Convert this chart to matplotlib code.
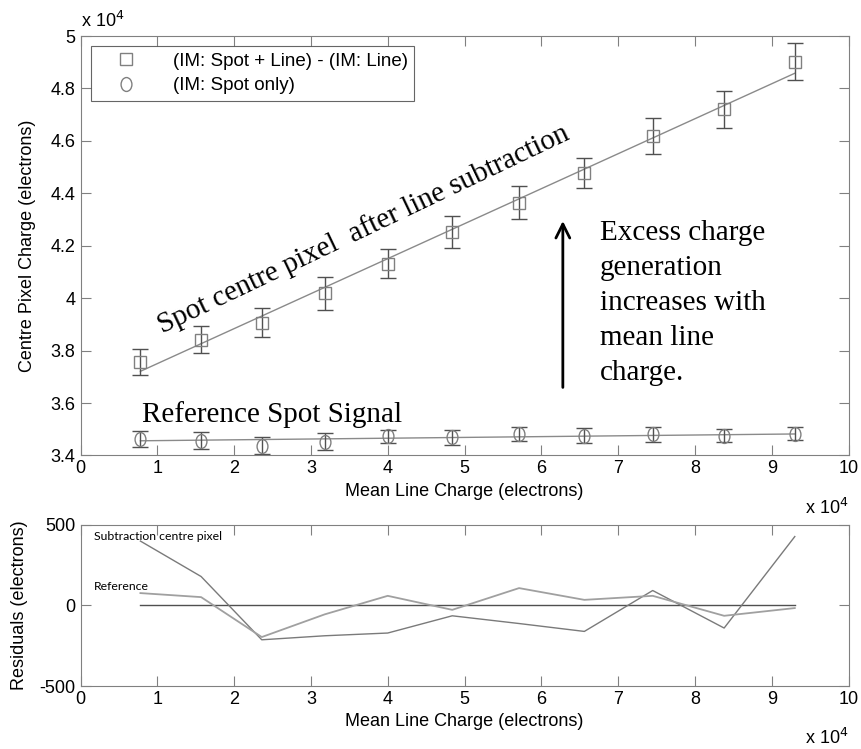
import matplotlib.pyplot as plt
import numpy as np
from matplotlib.ticker import FuncFormatter
from matplotlib.path import Path
from matplotlib.transforms import Affine2D

# all charges in units of 1e4 electrons (residuals in electrons)
line_charge = [0.78, 1.57, 2.36, 3.18, 4.0, 4.84, 5.71, 6.56, 7.45, 8.38, 9.3]

spot_sub = [3.757, 3.842, 3.907, 4.018, 4.132, 4.253, 4.364, 4.478, 4.619, 4.720, 4.902]
spot_sub_err = [0.050, 0.052, 0.057, 0.062, 0.055, 0.060, 0.063, 0.058, 0.068, 0.072, 0.071]

spot_ref = [3.462, 3.457, 3.437, 3.453, 3.473, 3.469, 3.483, 3.476, 3.481, 3.476, 3.483]
spot_ref_err = [0.030, 0.033, 0.032, 0.034, 0.025, 0.028, 0.027, 0.027, 0.029, 0.024, 0.025]

fit_x = [0.78, 9.3]
fit_sub = [3.721, 4.858]
fit_ref = [3.456, 3.482]

res_sub = [400, 180, -213, -188, -171, -64, -112, -161, 93, -140, 428]
res_ref = [77, 52, -196, -55, 60, -27, 108, 35, 60, -64, -16]

plt.rcParams['font.family'] = ['Liberation Sans', 'DejaVu Sans']
plt.rcParams['axes.unicode_minus'] = False

fig = plt.figure(figsize=(8.62, 7.49), dpi=100)
ax = fig.add_axes([0.0934, 0.3919, 0.891, 0.560])
ax2 = fig.add_axes([0.0934, 0.0841, 0.891, 0.215])

mk_col = '#808080'
err_col = '#505050'
# slightly tall ellipse, like the squashed circles of the original
ellipse = Affine2D().scale(0.78, 1.0).transform_path(Path.unit_circle())

ax.plot(fit_x, fit_sub, color='#8a8a8a', lw=1)
ax.plot(fit_x, fit_ref, color='#8a8a8a', lw=1)
ax.errorbar(line_charge, spot_sub, yerr=spot_sub_err, fmt='none', ecolor=err_col,
            elinewidth=1, capsize=6, capthick=1)
ax.errorbar(line_charge, spot_ref, yerr=spot_ref_err, fmt='none', ecolor=err_col,
            elinewidth=1, capsize=6, capthick=1)
ax.plot(line_charge, spot_sub, 's', ms=9, mfc='none', mec=mk_col, mew=1,
        label='(IM: Spot + Line) - (IM: Line)')
ax.plot(line_charge, spot_ref, marker=ellipse, ls='none', ms=10, mfc='none', mec=mk_col, mew=1,
        label='(IM: Spot only)')

ax.set_xlim(0, 10)
ax.set_ylim(3.4, 5.0)
ax.set_xticks(range(0, 11))
ax.set_yticks(np.arange(3.4, 5.01, 0.2))
ax.yaxis.set_major_formatter(FuncFormatter(lambda v, p: '%g' % round(v, 1)))
ax.set_xlabel('Mean Line Charge (electrons)', fontsize=13)
ax.set_ylabel('Centre Pixel Charge (electrons)', fontsize=13)
ax.yaxis.set_label_coords(-0.058, 0.5)
ax.text(0.0, 1.012, r'x 10$^4$', transform=ax.transAxes, fontsize=13, ha='left', va='bottom')
ax.text(1.0, -0.125, r'x 10$^4$', transform=ax.transAxes, fontsize=13, ha='right', va='center')

leg = ax.legend(loc='upper left', bbox_to_anchor=(0.0137, 0.976), borderaxespad=0,
                fontsize=13.5, frameon=True, fancybox=False, handletextpad=1.0,
                handlelength=3.0, borderpad=0.35, labelspacing=0.4)
leg.get_frame().set_edgecolor('#404040')
leg.get_frame().set_linewidth(0.8)

serif = ['Liberation Serif', 'DejaVu Serif']
ax.text(1.07, 3.866, 'Spot centre pixel  after line subtraction', family=serif, fontsize=21,
        rotation=25.5, rotation_mode='anchor', ha='left', va='baseline')
ax.text(0.80, 3.528, 'Reference Spot Signal', family=serif, fontsize=21, ha='left', va='baseline')
ax.text(6.76, 4.30, 'Excess charge\ngeneration\nincreases with\nmean line\ncharge.',
        family=serif, fontsize=21, ha='left', va='top', linespacing=1.45)
ax.annotate('', xy=(6.28, 4.305), xytext=(6.28, 3.649),
            arrowprops=dict(arrowstyle='->', color='black', lw=2, mutation_scale=25))

# residuals
ax2.plot(fit_x, [0, 0], color='#505050', lw=1)
ax2.plot(line_charge, res_sub, color='#7a7a7a', lw=1)
ax2.plot(line_charge, res_ref, color='#a0a0a0', lw=1.3)
ax2.set_xlim(0, 10)
ax2.set_ylim(-500, 500)
ax2.set_xticks(range(0, 11))
ax2.set_yticks([-500, 0, 500])
ax2.set_xlabel('Mean Line Charge (electrons)', fontsize=13)
ax2.set_ylabel('Residuals (electrons)', fontsize=13)
ax2.yaxis.set_label_coords(-0.068, 0.5)
ax2.text(1.0, -0.32, r'x 10$^4$', transform=ax2.transAxes, fontsize=13, ha='right', va='center')
small = ['Lato', 'DejaVu Sans']
ax2.text(0.17, 430, 'Subtraction centre pixel', family=small, fontsize=8.8, ha='left', va='center')
ax2.text(0.17, 120, 'Reference', family=small, fontsize=8.8, ha='left', va='center')

for a in (ax, ax2):
    a.tick_params(direction='in', top=True, right=True, length=7, width=0.8,
                  labelsize=13, colors='#808080', labelcolor='black')
    for s in a.spines.values():
        s.set_color('#808080')
        s.set_linewidth(0.8)

fig.savefig('out.png', dpi=100)
